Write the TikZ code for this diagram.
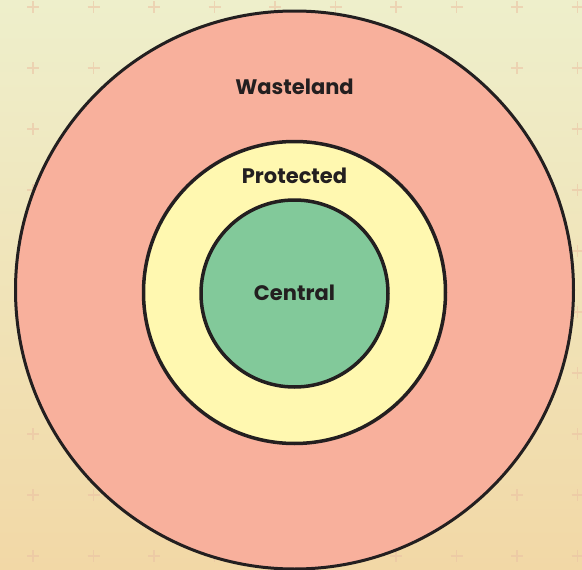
\documentclass[tikz,border=0pt]{standalone}
\usepackage{fontspec}
\setmainfont{Poppins}
\usetikzlibrary{shapes.geometric}
\definecolor{ink}{HTML}{231F20}
\definecolor{bgtop}{HTML}{EEEFCB}
\definecolor{bgbot}{HTML}{F2D8A6}
\definecolor{crossc}{HTML}{EBC3A4}
\definecolor{wastec}{HTML}{F8B09C}
\definecolor{protc}{HTML}{FFF8B0}
\definecolor{centc}{HTML}{82C99A}
\tikzset{
  ring/.style={circle, draw=ink, inner sep=0pt, outer sep=0pt},
  zonelabel/.style={font=\bfseries\fontsize{21}{24}\selectfont, text=ink, inner sep=0pt},
}
\begin{document}
\begin{tikzpicture}[x=1pt,y=-1pt]
\useasboundingbox (0,0) rectangle (582,570);
\shade[top color=bgtop, bottom color=bgbot] (0,0) rectangle (582,570);
\foreach \i in {0,...,9}{
  \foreach \j in {0,...,9}{
    \draw[crossc, line width=1.2pt, opacity=0.6]
      ({33+60.5*\i-6},{7+61*\j}) -- ({33+60.5*\i+6},{7+61*\j})
      ({33+60.5*\i},{7+61*\j-6}) -- ({33+60.5*\i},{7+61*\j+6});
  }
}
\node[ring, fill=wastec, line width=3pt, minimum size=558pt] (waste) at (294.5,290) {};
\node[ring, fill=protc, line width=3.5pt, minimum size=302pt] (prot) at (294.5,292.5) {};
\node[ring, fill=centc, line width=3.5pt, minimum size=187pt] (cent) at (294.5,293.5) {};
\node[zonelabel] (wastelabel) at (294.5,87) {Wasteland};
\node[zonelabel] (protlabel) at (294.5,176) {Protected};
\node[zonelabel] (centlabel) at (294.5,293) {Central};
\end{tikzpicture}
\end{document}
